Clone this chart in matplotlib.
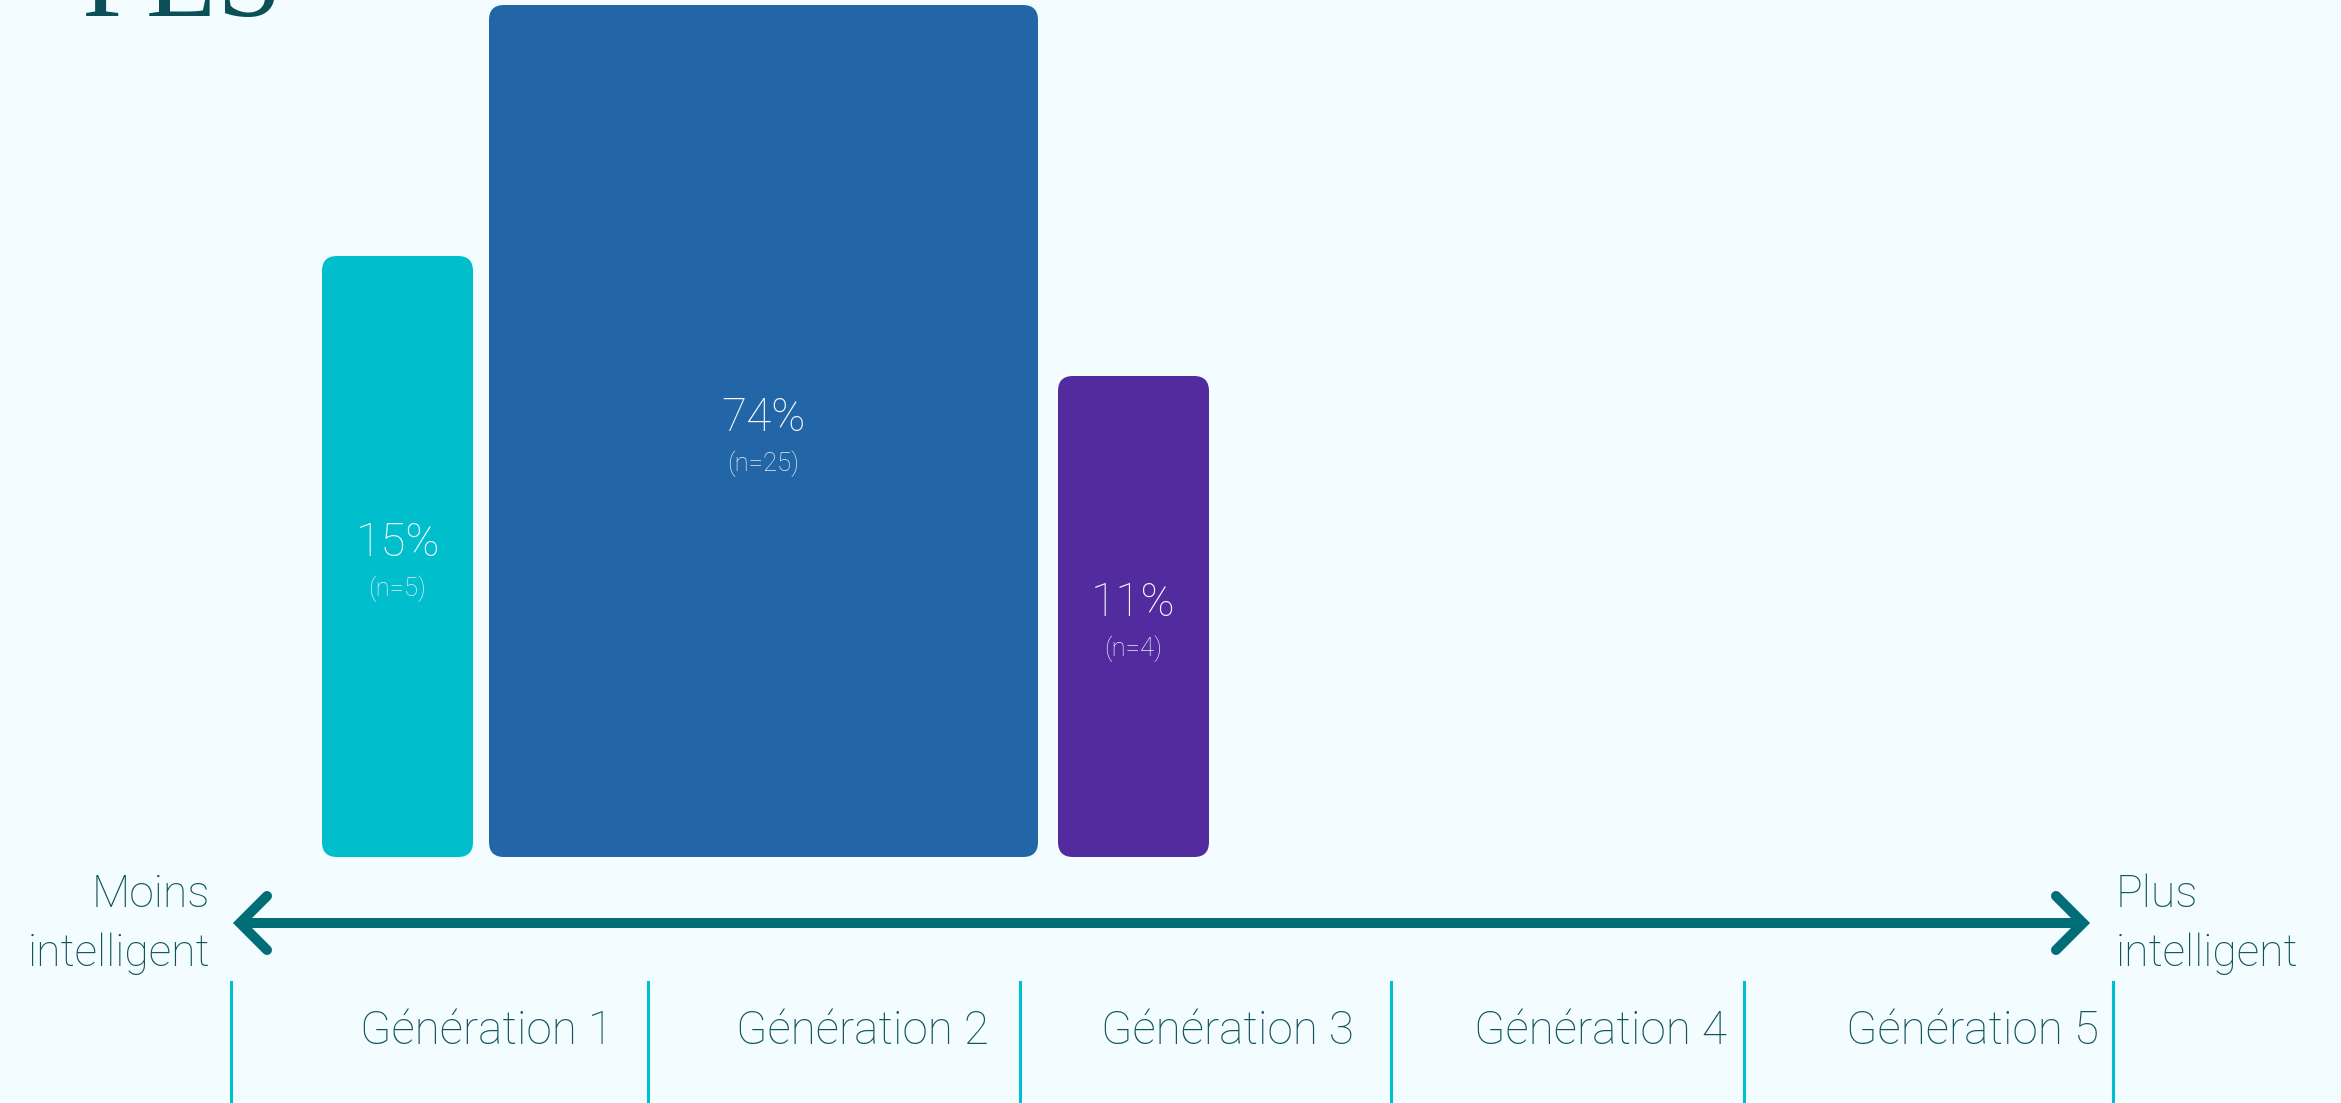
import matplotlib.pyplot as plt
from matplotlib.patches import FancyBboxPatch

# data
percent = [15, 74, 11]
counts = [5, 25, 4]
bar_heights = [601, 852, 481]
generations = ['Génération 1', 'Génération 2', 'Génération 3', 'Génération 4', 'Génération 5']

# layout (px-like units, y = 0 at the bar baseline)
bar_left = [322, 489, 1058]
bar_width = [151, 549, 151]
bar_colors = ['#00BECB', '#2366A8', '#522B9E']
divider_x = [231, 648, 1020, 1391, 1744, 2113]
gen_x = [487, 863, 1227, 1600, 1972]

bg = '#F3FCFF'
teal = '#006D77'
text_col = '#11555C'
font = ['Roboto', 'DejaVu Sans']
wt = 'light'

fig = plt.figure(figsize=(23.41, 11.03), dpi=100, facecolor=bg)
ax = fig.add_axes([0, 0, 1, 1])
ax.set_facecolor(bg)
ax.set_xlim(0, 2341)
ax.set_ylim(-246, 857)
ax.axis('off')

for i, h in enumerate(bar_heights):
    ax.add_patch(FancyBboxPatch((bar_left[i], 0), bar_width[i], h,
                                boxstyle='round,pad=0,rounding_size=15',
                                fc=bar_colors[i], ec='none'))
    cx = bar_left[i] + bar_width[i] / 2
    ax.text(cx, h / 2, f'{percent[i]}%', ha='center', va='baseline',
            fontsize=33, color='#F6F9FC', family=font, fontweight=wt)
    ax.text(cx, h / 2 - 40, f'(n={counts[i]})', ha='center', va='baseline',
            fontsize=18.5, color='#E6EDF4', family=font, fontweight=wt)

# double arrow
ay = -66
lw = 7.2
ax.plot([240, 2083], [ay, ay], color=teal, lw=lw, solid_capstyle='butt')
ax.plot([267, 240, 267], [ay + 27, ay, ay - 27], color=teal, lw=lw,
        solid_capstyle='round', solid_joinstyle='miter')
ax.plot([2056, 2083, 2056], [ay + 27, ay, ay - 27], color=teal, lw=lw,
        solid_capstyle='round', solid_joinstyle='miter')

ax.text(210, -50, 'Moins', ha='right', va='baseline', fontsize=32,
        color=text_col, family=font, fontweight=wt)
ax.text(210, -109, 'intelligent', ha='right', va='baseline', fontsize=32,
        color=text_col, family=font, fontweight=wt)
ax.text(2116, -50, 'Plus', ha='left', va='baseline', fontsize=32,
        color=text_col, family=font, fontweight=wt)
ax.text(2116, -109, 'intelligent', ha='left', va='baseline', fontsize=32,
        color=text_col, family=font, fontweight=wt)

for x in divider_x:
    ax.plot([x, x], [-125, -246], color='#00BFD0', lw=2.2)

for x, g in zip(gen_x, generations):
    ax.text(x, -187, g, ha='center', va='baseline', fontsize=33,
            color=text_col, family=font, fontweight=wt)

ax.text(82, 841, 'PLS', ha='left', va='baseline', fontsize=84,
        color='#0D4F57', family=['Liberation Serif', 'DejaVu Serif'])

fig.savefig('out.png', dpi=100, facecolor=bg)
